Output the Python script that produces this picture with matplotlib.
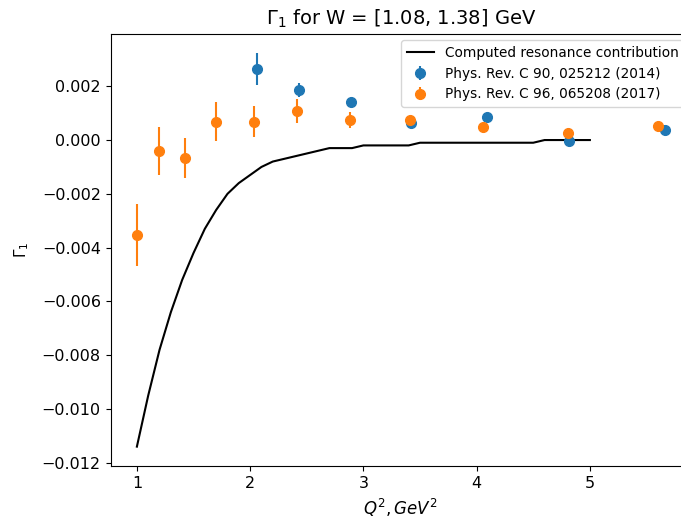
import matplotlib
matplotlib.use("Agg")
import matplotlib.pyplot as plt
import numpy as np

# Computed resonance contribution
q2_line = [1.0, 1.1, 1.2, 1.3, 1.4, 1.5, 1.6, 1.7, 1.8, 1.9, 2.0,
           2.1, 2.2, 2.3, 2.4, 2.5, 2.6, 2.7, 2.8, 2.9, 3.0,
           3.1, 3.2, 3.3, 3.4, 3.5, 3.6, 3.7, 3.8, 3.9, 4.0,
           4.1, 4.2, 4.3, 4.4, 4.5, 4.6, 4.7, 4.8, 4.9, 5.0]
g1_line = [-0.0114, -0.0095, -0.0078, -0.0064, -0.0052, -0.0042, -0.0033, -0.0026, -0.0020, -0.0016, -0.0013,
           -0.0010, -0.0008, -0.0007, -0.0006, -0.0005, -0.0004, -0.0003, -0.0003, -0.0003, -0.0002,
           -0.0002, -0.0002, -0.0002, -0.0002, -0.0001, -0.0001, -0.0001, -0.0001, -0.0001, -0.0001,
           -0.0001, -0.0001, -0.0001, -0.0001, -0.0001, 0.0000, 0.0000, 0.0000, 0.0000, 0.0000]

# Phys. Rev. C 90, 025212 (2014)
q2_2014 = [2.06, 2.43, 2.89, 3.42, 4.09, 4.82, 5.66]
g1_2014 = [0.00263, 0.00186, 0.00142, 0.00064, 0.00084, -0.00003, 0.00037]
err_2014 = [0.0006, 0.00025, 0.00008, 0.00005, 0.00004, 0.00004, 0.00004]

# Phys. Rev. C 96, 065208 (2017)
q2_2017 = [1.0, 1.197, 1.426, 1.70, 2.03, 2.417, 2.88, 3.41, 4.06, 4.81, 5.60]
g1_2017 = [-0.00353, -0.00041, -0.00066, 0.00068, 0.00068, 0.00108, 0.00073, 0.00073, 0.00049, 0.00027, 0.00052]
err_2017 = [0.00115, 0.00089, 0.00075, 0.00072, 0.00058, 0.00043, 0.0003, 0.00012, 0.00006, 0.00005, 0.00004]

fig = plt.figure(figsize=(6.81, 5.23), dpi=100)
W, H = 681, 523
left, right, top, bottom = 110.5, 691, 33.5, 466.3
ax = fig.add_axes([left / W, (H - bottom) / H, (right - left) / W, (bottom - top) / H])

ax.plot(q2_line, g1_line, color="black", label="Computed resonance contribution")
ax.errorbar(q2_2014, g1_2014, yerr=err_2014, fmt="o", markersize=7,
            label="Phys. Rev. C 90, 025212 (2014)")
ax.errorbar(q2_2017, g1_2017, yerr=err_2017, fmt="o", markersize=7,
            label="Phys. Rev. C 96, 065208 (2017)")

ax.set_title(r"$\Gamma_1$ for W = [1.08, 1.38] GeV", fontsize=14)
ax.set_xlabel(r"$Q^2, GeV^2$", fontsize=12)
ax.set_ylabel(r"$\Gamma_1$", fontsize=11, labelpad=8)
ax.tick_params(labelsize=11.5)
ax.legend(loc="upper right", fontsize=9.8)

fig.savefig("out.png", dpi=100)
